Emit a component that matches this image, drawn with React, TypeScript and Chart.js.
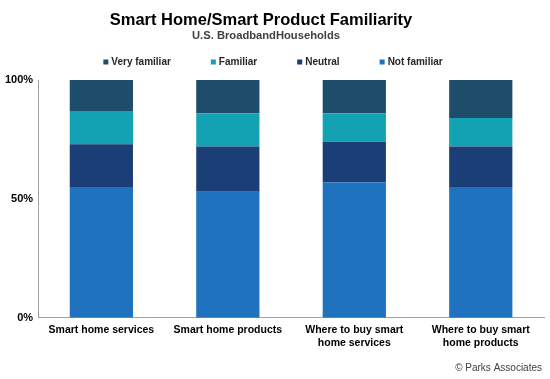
import React, { useEffect, useRef } from "react";
import { Chart, registerables } from "chart.js";

Chart.register(...registerables);

const categories: (string | string[])[] = [
  "Smart home services",
  "Smart home products",
  ["Where to buy smart", "home services"],
  ["Where to buy smart", "home products"],
];
const notFamiliar = [55, 53, 57, 55];
const neutral = [18, 19, 17, 17];
const familiar = [14, 14, 12, 12];
const veryFamiliar = [13, 14, 14, 16];
const yTicks = [0, 50, 100];

const titleText = "Smart Home/Smart Product Familiarity";
const subtitleText = "U.S. BroadbandHouseholds";
const creditText = "\u00A9 Parks Associates";

const FONT = "'Liberation Sans', Arial, sans-serif";

const decorPlugin = {
  id: "decor",
  afterDraw(chart: any) {
    const ctx = chart.ctx;
    ctx.save();
    // title & subtitle
    ctx.textAlign = "center";
    ctx.textBaseline = "alphabetic";
    ctx.fillStyle = "#000";
    ctx.font = `bold 16.5px ${FONT}`;
    ctx.fillText(titleText, 261, 25);
    ctx.fillStyle = "#404040";
    ctx.font = `bold 11.2px ${FONT}`;
    ctx.fillText(subtitleText, 266, 38.5);

    // legend
    const items = [...chart.data.datasets].reverse();
    ctx.font = `bold 10px ${FONT}`;
    const box = 5;
    const gapBox = 3;
    const gapItem = 40;
    const widths = items.map((d: any) => box + gapBox + ctx.measureText(d.label).width);
    const total = widths.reduce((a: number, b: number) => a + b, 0) + gapItem * (items.length - 1);
    let x = 273 - total / 2;
    const y = 62;
    ctx.textBaseline = "middle";
    ctx.textAlign = "left";
    items.forEach((d: any, i: number) => {
      ctx.fillStyle = d.backgroundColor;
      ctx.fillRect(x, y - box / 2, box, box);
      ctx.fillStyle = "#262626";
      ctx.fillText(d.label, x + box + gapBox, y + 0.5);
      x += widths[i] + gapItem;
    });

    // credit
    ctx.font = `10px ${FONT}`;
    ctx.fillStyle = "#404040";
    ctx.textAlign = "right";
    ctx.textBaseline = "middle";
    ctx.fillText(creditText, chart.width - 8, 368);
    ctx.restore();
  },
};

export default function App() {
  const ref = useRef<HTMLCanvasElement>(null);
  useEffect(() => {
    document.body.style.margin = "0";
    const chart = new Chart(ref.current!, {
      type: "bar",
      data: {
        labels: categories as any,
        datasets: [
          { label: "Not familiar", data: notFamiliar, backgroundColor: "#1F72BE" },
          { label: "Neutral", data: neutral, backgroundColor: "#1B3E76" },
          { label: "Familiar", data: familiar, backgroundColor: "#12A2B3" },
          { label: "Very familiar", data: veryFamiliar, backgroundColor: "#1E4D6C" },
        ],
      },
      options: {
        animation: false,
        responsive: false,
        maintainAspectRatio: false,
        layout: { padding: { left: 0, right: 6, top: 80, bottom: 24 } },
        datasets: { bar: { categoryPercentage: 1, barPercentage: 0.5 } },
        plugins: {
          title: { display: false },
          subtitle: { display: false },
          legend: { display: false },
          tooltip: { enabled: false },
        },
        scales: {
          x: {
            stacked: true,
            grid: { display: false, drawTicks: false },
            border: { display: true, color: "#A0A0A0" },
            ticks: {
              color: "#000",
              font: { family: FONT, size: 10.5, weight: "bold" },
              padding: 6,
              maxRotation: 0,
              autoSkip: false,
            },
          },
          y: {
            stacked: true,
            min: 0,
            max: 100,
            afterBuildTicks: (axis: any) => {
              axis.ticks = yTicks.map((v) => ({ value: v }));
            },
            grid: { display: false, drawTicks: false },
            border: { display: true, color: "#A0A0A0" },
            ticks: {
              color: "#000",
              font: { family: FONT, size: 11, weight: "bold" },
              padding: 5,
              callback: (v: any) => `${v}%`,
            },
          },
        },
      },
      plugins: [decorPlugin],
    });
    return () => chart.destroy();
  }, []);
  return <canvas ref={ref} width={550} height={379} style={{ display: "block" }} />;
}
